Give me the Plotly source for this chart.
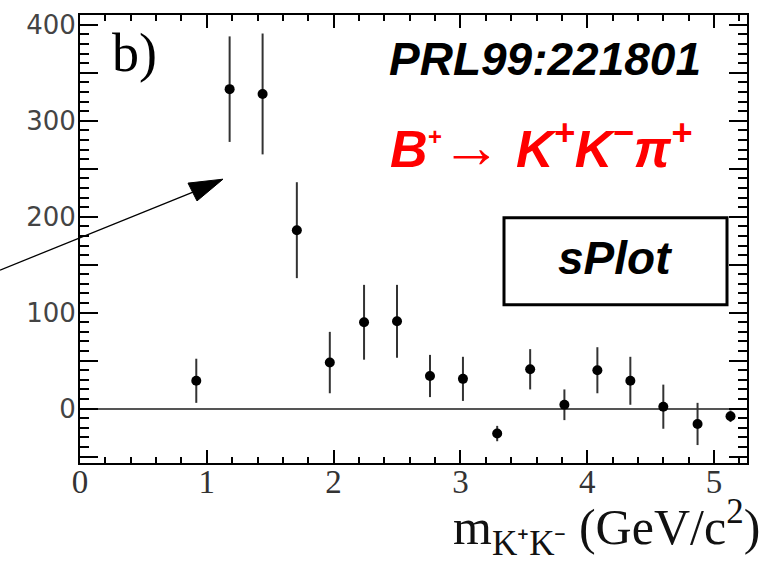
import plotly.graph_objects as go

# K+K- invariant mass bins (GeV/c^2), sPlot signal yields and uncertainties
mass = [0.917, 1.18, 1.44, 1.71, 1.97, 2.24, 2.50, 2.76, 3.02,
        3.29, 3.55, 3.82, 4.08, 4.34, 4.60, 4.87, 5.13]
yields = [29, 333, 328, 186, 48, 90, 91, 34, 31,
          -26, 41, 4, 40, 29, 2, -16, -8]
errors = [23, 55, 63, 50, 32, 39, 38, 22, 23,
          8, 21, 16, 24, 25, 23, 22, 6]

y_tickvals = [0, 100, 200, 300, 400]
y_ticktext = ["0", "100", "200", "300", "400"]
y_halfticks = [-50, 50, 150, 250, 350]
x_tickvals = [0, 1, 2, 3, 4, 5]
x_ticktext = ["0", "1", "2", "3", "4", "5"]

X_RANGE = [0, 5.26]
Y_RANGE = [-56.7, 410.3]

W, H = 766, 562
L, R, T, B = 80, 19, 10, 99
PW, PH = W - L - R, H - T - B


def px(x):
    return (x - L) / PW


def py(y):
    return (H - B - y) / PH


fig = go.Figure()
fig.add_trace(go.Scatter(
    x=mass, y=yields, mode="markers",
    marker=dict(color="black", size=10, symbol="circle"),
    error_y=dict(type="data", array=errors, visible=True,
                 color="#333333", thickness=2, width=0),
    showlegend=False,
))
# carrier for the secondary (half-division) tick axis
fig.add_trace(go.Scatter(x=[], y=[], yaxis="y2", showlegend=False, hoverinfo="skip"))

axis_common = dict(
    showline=True, linecolor="black", linewidth=2, mirror="ticks",
    ticks="inside", tickcolor="black", tickwidth=1.5,
    showgrid=False,
)

fig.update_layout(
    xaxis=dict(
        range=X_RANGE, tickmode="array", tickvals=x_tickvals, ticktext=x_ticktext,
        ticklen=13, ticklabelstandoff=-12,
        tickfont=dict(family="Liberation Serif", size=33, color="#333333"),
        minor=dict(tick0=0, dtick=0.2, ticklen=6, ticks="inside",
                   tickcolor="black", tickwidth=1.5, showgrid=False),
        zeroline=False,
        **axis_common,
    ),
    yaxis=dict(
        range=Y_RANGE, tickmode="array", tickvals=y_tickvals, ticktext=y_ticktext,
        ticklen=18, ticklabelstandoff=-3,
        tickfont=dict(family="DejaVu Sans", size=26, color="#444444"),
        minor=dict(tick0=0, dtick=10, ticklen=9, ticks="inside",
                   tickcolor="black", tickwidth=1.5, showgrid=False),
        zeroline=True, zerolinecolor="#555555", zerolinewidth=2,
        **axis_common,
    ),
    yaxis2=dict(
        overlaying="y", side="left", range=Y_RANGE,
        tickmode="array", tickvals=y_halfticks, showticklabels=False,
        ticks="inside", ticklen=18, tickcolor="black", tickwidth=1.5,
        showline=False, mirror="ticks", showgrid=False, zeroline=False,
    ),
)

annotations = [
    dict(text="b)", x=px(110), y=py(48), xanchor="left", yanchor="middle",
         font=dict(family="Liberation Serif", size=54, color="black")),
    dict(text="<b><i>PRL99:221801</i></b>", x=px(703), y=py(54),
         xanchor="right", yanchor="middle",
         font=dict(family="Liberation Sans", size=46, color="black")),
    dict(text=("<b><i>B<sup><span style='font-size:24px'>+</span></sup></i></b>"
               "<span style='font-size:60px'>\u2192</span> "
               "<b><i>K<sup>+</sup>K<sup>\u2212</sup>\u03c0<sup>+</sup></i></b>"),
         x=px(694), y=py(142), xanchor="right", yanchor="middle",
         font=dict(family="Liberation Sans", size=52, color="#ff0000")),
    dict(text="<b><i>sPlot</i></b>", x=px(615), y=py(256),
         xanchor="center", yanchor="middle",
         font=dict(family="Liberation Sans", size=46, color="black")),
    dict(text="m<sub>K\u207aK\u207b</sub> (GeV/c<sup>2</sup>)", x=px(762), y=py(528),
         xanchor="right", yanchor="middle",
         font=dict(family="Liberation Serif", size=50, color="#111111")),
]
for a in annotations:
    a.update(xref="paper", yref="paper", showarrow=False)

shapes = [
    # framed label box
    dict(type="rect", xref="paper", yref="paper",
         x0=px(504), x1=px(727), y0=py(303), y1=py(215),
         line=dict(color="black", width=3), fillcolor="rgba(0,0,0,0)"),
    # pointer arrow shaft
    dict(type="line", xref="paper", yref="paper",
         x0=px(0), y0=py(268), x1=px(193), y1=py(189),
         line=dict(color="black", width=1.3)),
    # pointer arrow head
    dict(type="path", xref="paper", yref="paper",
         path=f"M {px(223)},{py(176)} L {px(188)},{py(180)} L {px(197)},{py(198)} Z",
         fillcolor="black", line=dict(color="black", width=1)),
]

fig.update_layout(
    width=W, height=H,
    margin=dict(l=L, r=R, t=T, b=B, pad=0),
    paper_bgcolor="white", plot_bgcolor="white",
    annotations=annotations, shapes=shapes,
    showlegend=False,
)

fig.write_html("out.html")
